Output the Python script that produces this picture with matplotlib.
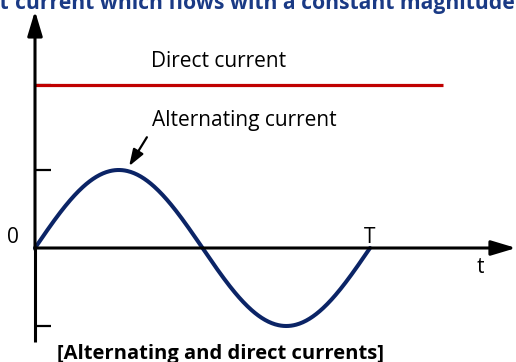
import numpy as np
import matplotlib.pyplot as plt

# diagram values (current in units of the AC amplitude, time in units of T)
period = 1.0
amplitude = 1.0
dc_level = 2.09
dc_end = 1.218
tick_levels = [dc_level, amplitude, -amplitude]

labels = {
    "dc": "Direct current",
    "ac": "Alternating current",
    "zero": "0",
    "period": "T",
    "time": "t",
}
title_text = "current which flows with a constant magnitude"
caption = "[Alternating and direct currents]"

NAVY = "#0b2466"
RED = "#c00000"
TITLE_BLUE = "#1a3a85"

plt.rcParams["font.family"] = ["Open Sans", "DejaVu Sans"]

fig = plt.figure(figsize=(5.16, 3.62), dpi=100)
ax = fig.add_axes([0, 0, 1, 1])
ax.axis("off")
# 335 px per period, 78 px per amplitude unit, origin at pixel (35, 248)
ax.set_xlim(-35 / 335, 481 / 335)
ax.set_ylim(-114 / 78, 248 / 78)

arrow_style = "-|>,head_length=1.5,head_width=0.45"
# y axis
ax.plot([0, 0], [-1.205, 0], color="black", lw=2.2, solid_capstyle="butt")
ax.annotate("", xy=(0, 3.04), xytext=(0, -0.02),
            arrowprops=dict(arrowstyle=arrow_style, mutation_scale=10,
                            color="black", lw=2.2, shrinkA=0, shrinkB=0))
# x axis
ax.annotate("", xy=(1.436, 0), xytext=(0, 0),
            arrowprops=dict(arrowstyle=arrow_style, mutation_scale=10,
                            color="black", lw=2.2, shrinkA=0, shrinkB=0))

# tick marks on the y axis
for lv in tick_levels:
    ax.plot([0, 0.048], [lv, lv], color="black", lw=1.6, solid_capstyle="butt")

# direct current
ax.plot([0, dc_end], [dc_level, dc_level], color=RED, lw=2.3, solid_capstyle="butt")

# alternating current
t = np.linspace(0, period, 400)
ax.plot(t, amplitude * np.sin(2 * np.pi * t / period), color=NAVY, lw=2.9,
        solid_capstyle="round")

# pointer to the peak
ax.annotate("", xy=(0.281, 1.05), xytext=(0.334, 1.42),
            arrowprops=dict(arrowstyle="-|>,head_length=1.0,head_width=0.35",
                            mutation_scale=10, color="black", lw=1.6,
                            shrinkA=0, shrinkB=0))

fs = 15
ax.text(0.548, 2.32, labels["dc"], ha="center", va="baseline", fontsize=fs)
ax.text(0.349, 1.56, labels["ac"], ha="left", va="baseline", fontsize=fs)
ax.text(-0.066, 0.064, labels["zero"], ha="center", va="baseline", fontsize=fs)
ax.text(1.0, 0.064, labels["period"], ha="center", va="baseline", fontsize=fs)
ax.text(1.328, -0.32, labels["time"], ha="center", va="baseline", fontsize=fs)

# clipped title at the top and caption at the bottom
fig.text(15 / 516, 1 - 9 / 362, title_text, ha="left", va="baseline",
         fontsize=15.2, fontweight="bold", color=TITLE_BLUE)
fig.text(9 / 516, 1 - 9 / 362, "direct", ha="right", va="baseline",
         fontsize=15.2, fontweight="bold", color=TITLE_BLUE)
fig.text(57 / 516, 1 - 359 / 362, caption, ha="left", va="baseline",
         fontsize=14.5, fontweight="bold", color="black")

fig.savefig("out.png", dpi=100)
